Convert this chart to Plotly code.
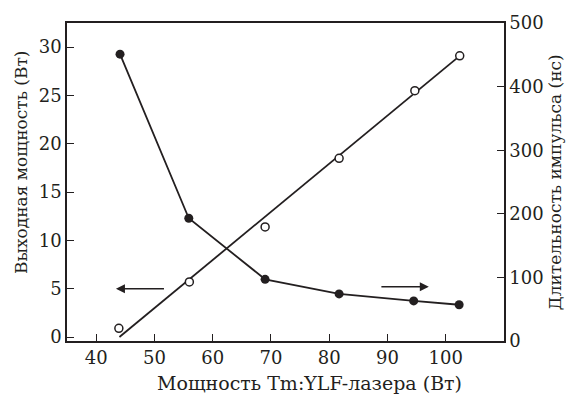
import plotly.graph_objects as go

# Pump power (W) for each measurement
pump_power = [43.9, 56.0, 69.0, 81.7, 94.7, 102.4]
# Output power (W), open circles, left axis
output_power = [0.9, 5.7, 11.4, 18.5, 25.5, 29.1]
# Pulse duration (ns), filled circles, right axis
pulse_x = [44.1, 55.9, 69.0, 81.7, 94.5, 102.3]
pulse_duration = [451, 193, 97, 74, 63, 57]
# Linear fit of output power
fit_x = [44.0, 102.4]
fit_y = [0.0, 29.1]

x_ticks = [40, 50, 60, 70, 80, 90, 100]
y1_ticks = [0, 5, 10, 15, 20, 25, 30]
y2_ticks = [0, 100, 200, 300, 400, 500]

x_title = "Мощность Tm:YLF-лазера (Вт)"
y1_title = "Выходная мощность (Вт)"
y2_title = "Длительность импульса (нс)"

ink = "#231f20"
font_family = "DejaVu Serif"

fig = go.Figure()
fig.add_trace(go.Scatter(x=fit_x, y=fit_y, mode="lines",
                         line=dict(color=ink, width=1.8), yaxis="y", showlegend=False))
fig.add_trace(go.Scatter(x=pump_power, y=output_power, mode="markers",
                         marker=dict(symbol="circle", size=8, color="white",
                                     line=dict(color=ink, width=1.5)),
                         yaxis="y", showlegend=False))
fig.add_trace(go.Scatter(x=pulse_x, y=pulse_duration, mode="lines+markers",
                         line=dict(color=ink, width=1.8),
                         marker=dict(symbol="circle", size=9, color=ink),
                         yaxis="y2", showlegend=False))

# direction arrows
fig.add_annotation(x=43.4, y=5.0, ax=51.9, ay=5.0, xref="x", yref="y", axref="x", ayref="y",
                   showarrow=True, arrowhead=2, arrowsize=1.2, arrowwidth=1.5, arrowcolor=ink, text="")
fig.add_annotation(x=97.1, y=5.2, ax=88.7, ay=5.2, xref="x", yref="y", axref="x", ayref="y",
                   showarrow=True, arrowhead=2, arrowsize=1.2, arrowwidth=1.5, arrowcolor=ink, text="")

# axis titles
fig.add_annotation(text=x_title, xref="paper", yref="paper", x=0.556, y=-0.131,
                   xanchor="center", yanchor="middle", showarrow=False,
                   font=dict(family=font_family, size=19, color=ink))
fig.add_annotation(text=y1_title, xref="paper", yref="paper", x=-0.105, y=0.56,
                   xanchor="center", yanchor="middle", showarrow=False, textangle=-90,
                   font=dict(family=font_family, size=17, color=ink))
fig.add_annotation(text=y2_title, xref="paper", yref="paper", x=1.117, y=0.50,
                   xanchor="center", yanchor="middle", showarrow=False, textangle=-90,
                   font=dict(family=font_family, size=17, color=ink))

axis_common = dict(showgrid=False, zeroline=False, showline=True, linecolor=ink, linewidth=1.5,
                   ticks="inside", ticklen=7, tickwidth=1.3, tickcolor=ink,
                   tickfont=dict(family=font_family, size=18, color=ink))

fig.update_layout(
    width=572, height=396,
    margin=dict(l=67, r=68, t=21, b=55),
    paper_bgcolor="white", plot_bgcolor="white",
    font=dict(family=font_family, color=ink),
    xaxis=dict(range=[35, 110], tickvals=x_ticks, mirror=True, **axis_common),
    yaxis=dict(range=[-0.41, 32.5], tickvals=y1_ticks, **axis_common),
    yaxis2=dict(range=[0, 500], tickvals=y2_ticks, overlaying="y", side="right", **axis_common),
)

fig.write_html("out.html")
